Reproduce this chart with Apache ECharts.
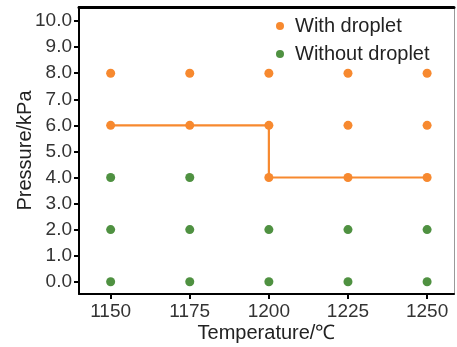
<!DOCTYPE html>
<html>
<head>
<meta charset="utf-8">
<script src="https://cdn.jsdelivr.net/npm/echarts@6/dist/echarts.min.js"></script>
<style>
  html, body { margin: 0; padding: 0; background: #fff; }
  #chart { width: 457px; height: 347px; }
</style>
</head>
<body>
<div id="chart"></div>
<script>
// tick values
const xTicks = [1150, 1175, 1200, 1225, 1250]
const yTicks = [0, 1, 2, 3, 4, 5, 6, 7, 8, 9, 10]

// points with droplet
const withDroplet = [
  [1150, 8], [1175, 8], [1200, 8], [1225, 8], [1250, 8],
  [1150, 6], [1175, 6], [1200, 6], [1225, 6], [1250, 6],
  [1200, 4], [1225, 4], [1250, 4]
]
// points without droplet
const withoutDroplet = [
  [1150, 4], [1175, 4],
  [1150, 2], [1175, 2], [1200, 2], [1225, 2], [1250, 2],
  [1150, 0], [1175, 0], [1200, 0], [1225, 0], [1250, 0]
]
// boundary line
const boundary = [[1150, 6], [1175, 6], [1200, 6], [1200, 4], [1225, 4], [1250, 4]]

const orange = '#F7892F'
const green = '#4F9141'
const font = 'Arial, "Liberation Sans", sans-serif'

const chart = echarts.init(document.getElementById('chart'))

const option = {
  animation: false,
  grid: { left: 79, right: 3, top: 7, bottom: 53, outerBoundsMode: 'none', containLabel: false },
  legend: {
    orient: 'vertical',
    top: 11,
    left: 271,
    itemWidth: 20,
    itemHeight: 8,
    itemGap: 8,
    textStyle: { fontFamily: font, fontSize: 20, lineHeight: 20, color: '#222' },
    data: [
      { name: 'With droplet', icon: 'circle' },
      { name: 'Without droplet', icon: 'circle' }
    ]
  },
  xAxis: [
    {
      type: 'value',
      min: 1140,
      max: 1258.5,
      name: 'Temperature/℃',
      nameLocation: 'middle',
      nameGap: 29,
      nameMoveOverlap: false,
      nameTextStyle: { fontFamily: font, fontSize: 20, color: '#222' },
      splitLine: { show: false },
      axisLine: { show: true, onZero: false, lineStyle: { color: '#000', width: 2 } },
      axisTick: { show: true, length: 5, customValues: xTicks, lineStyle: { color: '#000', width: 2 } },
      axisLabel: { customValues: xTicks, formatter: v => String(v), fontFamily: font, fontSize: 19, color: '#333', margin: 8 }
    },
    {
      type: 'value',
      position: 'top',
      min: 1140,
      max: 1258.5,
      splitLine: { show: false },
      axisLine: { show: true, onZero: false, lineStyle: { color: '#000', width: 3 } },
      axisTick: { show: false },
      axisLabel: { show: false }
    }
  ],
  yAxis: [
    {
      type: 'value',
      min: -0.47,
      max: 10.54,
      name: 'Pressure/kPa',
      nameLocation: 'middle',
      nameGap: 44,
      nameMoveOverlap: false,
      nameTextStyle: { fontFamily: font, fontSize: 20, color: '#222' },
      splitLine: { show: false },
      axisLine: { show: true, onZero: false, lineStyle: { color: '#000', width: 2 } },
      axisTick: { show: true, length: 5, customValues: yTicks, lineStyle: { color: '#000', width: 2 } },
      axisLabel: {
        customValues: yTicks,
        formatter: v => v.toFixed(1),
        fontFamily: font, fontSize: 19, color: '#333', margin: 7
      }
    },
    {
      type: 'value',
      position: 'right',
      min: -0.47,
      max: 10.54,
      splitLine: { show: false },
      axisLine: { show: true, onZero: false, lineStyle: { color: '#999', width: 1 } },
      axisTick: { show: false },
      axisLabel: { show: false }
    }
  ],
  series: [
    {
      name: 'boundary',
      type: 'line',
      data: boundary,
      showSymbol: false,
      lineStyle: { color: orange, width: 2.2 },
      z: 1
    },
    {
      name: 'With droplet',
      type: 'scatter',
      data: withDroplet,
      symbolSize: 9,
      itemStyle: { color: orange, opacity: 1 },
      z: 3
    },
    {
      name: 'Without droplet',
      type: 'scatter',
      data: withoutDroplet,
      symbolSize: 9,
      itemStyle: { color: green, opacity: 1 },
      z: 3
    }
  ]
}

chart.setOption(option)
</script>
</body>
</html>
